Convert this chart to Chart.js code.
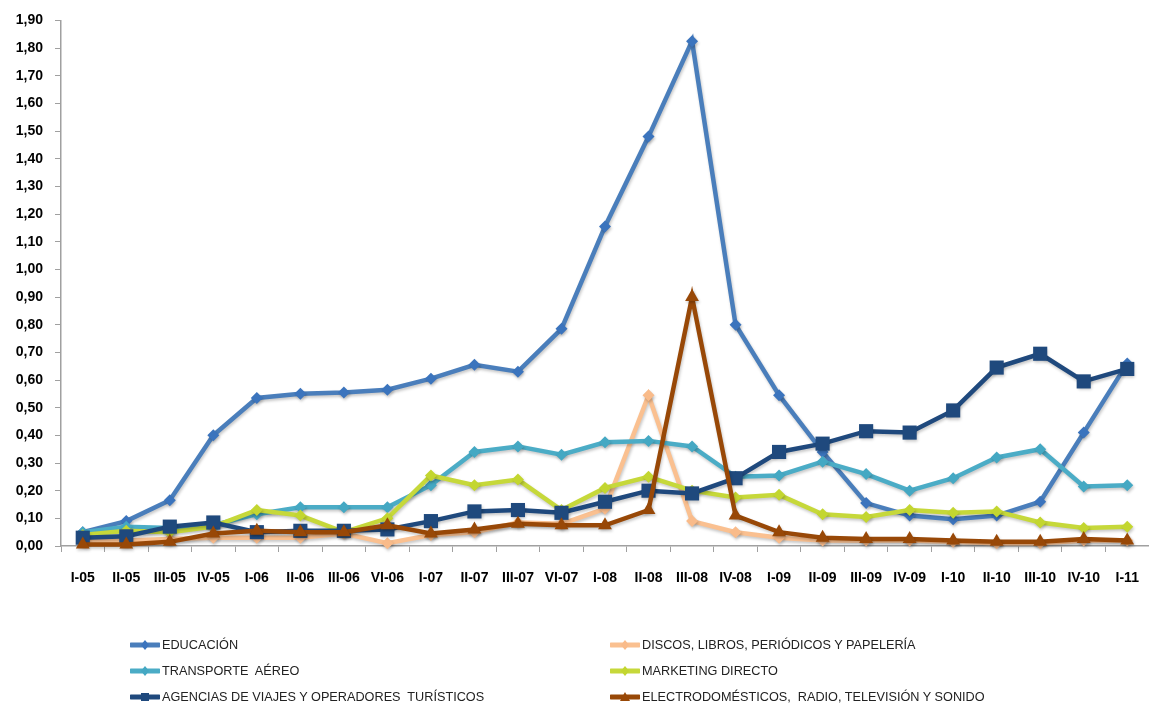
<!DOCTYPE html>
<html>
<head>
<meta charset="utf-8">
<script src="https://cdn.jsdelivr.net/npm/chart.js@4"></script>
<style>
  body { margin: 0; background: #fff; }
  #wrap { position: relative; width: 1149px; height: 704px; }
  #legend { position: absolute; left: 0; top: 0; width: 1149px; height: 704px; pointer-events: none;
            font-family: "Liberation Sans", Arial, sans-serif; font-size: 12.7px; color: #222; }
  .item { position: absolute; display: flex; align-items: center; white-space: pre; }
  .item svg { margin-right: 2px; }
</style>
</head>
<body>
<div id="wrap">
  <canvas id="chart" width="1149" height="704"></canvas>
  <div id="legend"></div>
</div>
<script>
// Categories (quarters) as printed on the x axis
const quarters = ['I-05', 'II-05', 'III-05', 'IV-05', 'I-06', 'II-06', 'III-06', 'VI-06',
  'I-07', 'II-07', 'III-07', 'VI-07', 'I-08', 'II-08', 'III-08', 'IV-08',
  'I-09', 'II-09', 'III-09', 'IV-09', 'I-10', 'II-10', 'III-10', 'IV-10', 'I-11'];

// Series values
const educacion = [0.05, 0.09, 0.165, 0.40, 0.535, 0.55, 0.555, 0.565, 0.605, 0.655, 0.63, 0.785,
  1.155, 1.48, 1.825, 0.80, 0.545, 0.34, 0.155, 0.11, 0.097, 0.11, 0.16, 0.41, 0.66];
const discos = [0.02, 0.02, 0.025, 0.03, 0.03, 0.03, 0.045, 0.01, 0.04, 0.05, 0.085, 0.08,
  0.135, 0.545, 0.09, 0.05, 0.03, 0.02, 0.02, 0.02, 0.015, 0.01, 0.01, 0.02, 0.02];
const transporte = [0.05, 0.07, 0.065, 0.075, 0.115, 0.14, 0.14, 0.14, 0.22, 0.34, 0.36, 0.33,
  0.375, 0.38, 0.36, 0.25, 0.255, 0.305, 0.26, 0.20, 0.245, 0.32, 0.35, 0.215, 0.22];
const marketing = [0.04, 0.055, 0.05, 0.07, 0.13, 0.11, 0.05, 0.10, 0.255, 0.22, 0.24, 0.13,
  0.21, 0.25, 0.20, 0.175, 0.185, 0.115, 0.105, 0.13, 0.12, 0.125, 0.085, 0.065, 0.07];
const agencias = [0.03, 0.035, 0.07, 0.085, 0.05, 0.055, 0.055, 0.06, 0.09, 0.125, 0.13, 0.12,
  0.16, 0.20, 0.19, 0.245, 0.34, 0.37, 0.415, 0.41, 0.49, 0.645, 0.695, 0.595, 0.64];
const electro = [0.005, 0.005, 0.015, 0.045, 0.055, 0.05, 0.05, 0.075, 0.045, 0.06, 0.08, 0.075,
  0.075, 0.13, 0.90, 0.11, 0.05, 0.03, 0.025, 0.025, 0.02, 0.015, 0.015, 0.025, 0.02];

const seriesNames = ['EDUCACIÓN', 'DISCOS, LIBROS, PERIÓDICOS Y PAPELERÍA', 'TRANSPORTE  AÉREO',
  'MARKETING DIRECTO', 'AGENCIAS DE VIAJES Y OPERADORES  TURÍSTICOS',
  'ELECTRODOMÉSTICOS,  RADIO, TELEVISIÓN Y SONIDO'];
const seriesData = [educacion, discos, transporte, marketing, agencias, electro];
const seriesColors = ['#4a7ebb', '#fac090', '#4bacc6', '#c6d83a', '#1f497d', '#984807'];
const markerColors = ['#3b74bd', '#f9bb8a', '#44a8c3', '#c3d630', '#1f497d', '#984807'];
const markerShapes = ['rectRot', 'rectRot', 'rectRot', 'rectRot', 'rect', 'triangle'];
const markerSizes = [6, 6, 6, 6, 10, 8];

// y axis ticks 0,00 .. 1,90
const yMax = 1.9;
const yStep = 0.1;

const datasets = seriesNames.map((name, i) => ({
  label: name,
  data: seriesData[i],
  borderColor: seriesColors[i],
  backgroundColor: markerColors[i],
  pointBackgroundColor: markerColors[i],
  pointBorderColor: markerColors[i],
  pointStyle: markerShapes[i],
  pointRadius: markerSizes[i],
  pointBorderWidth: 0,
  borderWidth: 4.5,
  tension: 0,
  clip: false,
  order: seriesNames.length - i // later series drawn on top, like Excel
}));

const tickFont = { family: '"Liberation Sans", Arial, sans-serif', size: 14, weight: 'bold' };

// soft shadow under the lines, like the excel look
const shadowPlugin = {
  id: 'lineShadow',
  beforeDatasetsDraw(chart) {
    const ctx = chart.ctx;
    ctx.save();
    ctx.shadowColor = 'rgba(0,0,0,0.22)';
    ctx.shadowBlur = 3;
    ctx.shadowOffsetX = 1;
    ctx.shadowOffsetY = 2;
  },
  afterDatasetsDraw(chart) {
    chart.ctx.restore();
  }
};

new Chart(document.getElementById('chart'), {
  type: 'line',
  data: { labels: quarters, datasets: datasets },
  plugins: [shadowPlugin],
  options: {
    responsive: false,
    animation: false,
    layout: { autoPadding: false, padding: { top: 8, right: 0, bottom: 0, left: 0 } },
    plugins: {
      legend: { display: false },
      tooltip: { enabled: false }
    },
    scales: {
      x: {
        offset: true,
        grid: { display: true, drawOnChartArea: false, offset: true, tickLength: 6, color: '#a0a0a0' },
        border: { color: '#a0a0a0', width: 1.5 },
        ticks: { color: '#000', font: tickFont, padding: 18, maxRotation: 0, autoSkip: false },
        afterFit: (scale) => { scale.height = 158; scale.paddingRight = 0; scale.paddingLeft = 0; }
      },
      y: {
        min: 0,
        max: yMax,
        grid: { display: true, drawOnChartArea: false, tickLength: 6, color: '#a0a0a0' },
        border: { color: '#a0a0a0', width: 1.5 },
        ticks: {
          stepSize: yStep,
          color: '#000',
          font: tickFont,
          padding: 12,
          callback: (v) => v.toFixed(2).replace('.', ',')
        },
        afterFit: (scale) => { scale.width = 61; }
      }
    }
  }
});

// HTML legend, two columns like the original
const legendPos = [[130, 645], [610, 645], [130, 671], [610, 671], [130, 697], [610, 697]];
const legend = document.getElementById('legend');
seriesNames.forEach((name, i) => {
  const item = document.createElement('div');
  item.className = 'item';
  item.style.left = legendPos[i][0] + 'px';
  item.style.top = (legendPos[i][1] - 8) + 'px';
  let marker = '';
  if (markerShapes[i] === 'rect') {
    marker = '<rect x="11" y="4" width="8" height="8" fill="' + markerColors[i] + '"/>';
  } else if (markerShapes[i] === 'triangle') {
    marker = '<polygon points="15,3 20,12 10,12" fill="' + markerColors[i] + '"/>';
  } else {
    marker = '<polygon points="15,3 19,8 15,13 11,8" fill="' + markerColors[i] + '"/>';
  }
  item.innerHTML = '<svg width="30" height="16"><line x1="1" y1="8" x2="29" y2="8" stroke="' +
    seriesColors[i] + '" stroke-width="5" stroke-linecap="round"/>' + marker + '</svg><span>' + name + '</span>';
  legend.appendChild(item);
});
</script>
</body>
</html>
